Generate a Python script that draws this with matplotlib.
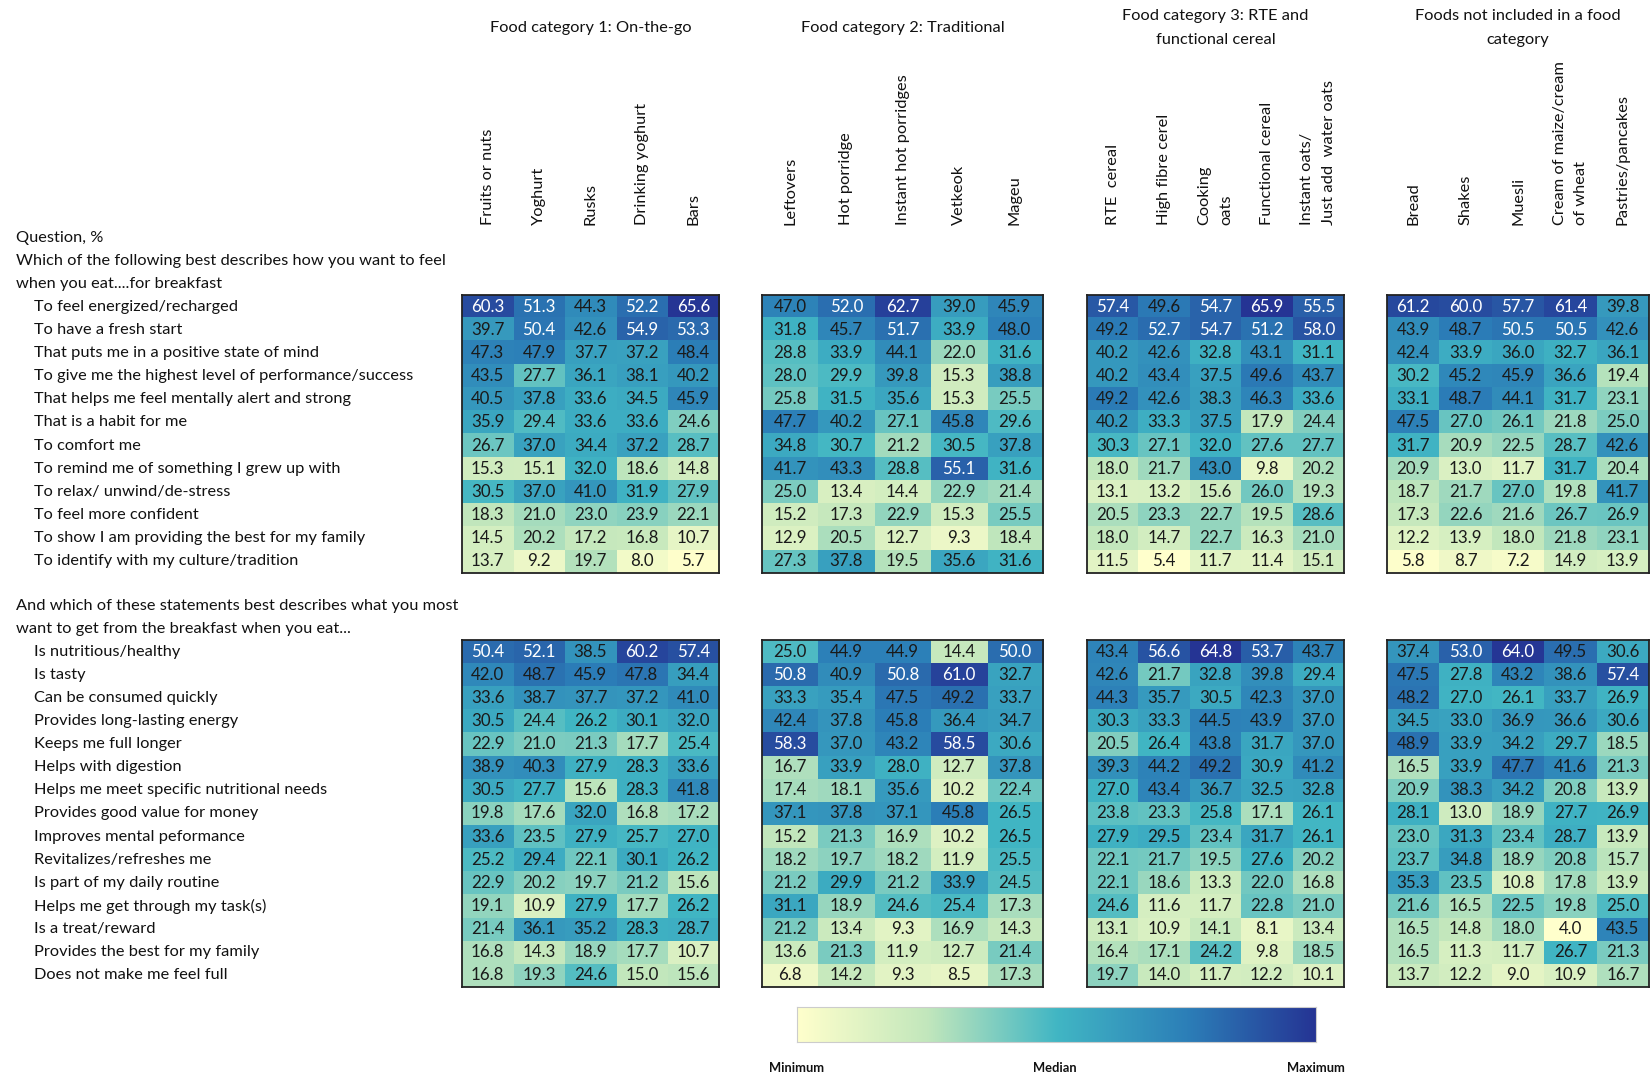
import numpy as np
import matplotlib
matplotlib.use("Agg")
import matplotlib.pyplot as plt
from matplotlib.colors import LinearSegmentedColormap, TwoSlopeNorm

plt.rcParams["font.family"] = ["Lato", "DejaVu Sans"]

# ---------------------------------------------------------------- data
group_titles = [
    "Food category 1: On-the-go",
    "Food category 2: Traditional",
    "Food category 3: RTE and\nfunctional cereal",
    "Foods not included in a food\ncategory",
]
group_columns = [
    ["Fruits or nuts", "Yoghurt", "Rusks", "Drinking yoghurt", "Bars"],
    ["Leftovers", "Hot porridge", "Instant hot porridges", "Vetkeok", "Mageu"],
    ["RTE  cereal", "High fibre cerel", "Cooking\noats", "Functional cereal",
     "Instant oats/\nJust add  water oats"],
    ["Bread", "Shakes", "Muesli", "Cream of maize/cream\nof wheat", "Pastries/pancakes"],
]

q1_header = ["Question, %",
             "Which of the following best describes how you want to feel",
             "when you eat....for breakfast"]
q1_rows = [
    "To feel energized/recharged",
    "To have a fresh start",
    "That puts me in a positive state of mind",
    "To give me the highest level of performance/success",
    "That helps me feel mentally alert and strong",
    "That is a habit for me",
    "To comfort me",
    "To remind me of something I grew up with",
    "To relax/ unwind/de-stress",
    "To feel more confident",
    "To show I am providing the best for my family",
    "To identify with my culture/tradition",
]

q2_header = ["And which of these statements best describes what you most",
             "want to get from the breakfast when you eat..."]
q2_rows = [
    "Is nutritious/healthy",
    "Is tasty",
    "Can be consumed quickly",
    "Provides long-lasting energy",
    "Keeps me full longer",
    "Helps with digestion",
    "Helps me meet specific nutritional needs",
    "Provides good value for money",
    "Improves mental peformance",
    "Revitalizes/refreshes me",
    "Is part of my daily routine",
    "Helps me get through my task(s)",
    "Is a treat/reward",
    "Provides the best for my family",
    "Does not make me feel full",
]

q1_onthego = [
    [60.3, 51.3, 44.3, 52.2, 65.6],
    [39.7, 50.4, 42.6, 54.9, 53.3],
    [47.3, 47.9, 37.7, 37.2, 48.4],
    [43.5, 27.7, 36.1, 38.1, 40.2],
    [40.5, 37.8, 33.6, 34.5, 45.9],
    [35.9, 29.4, 33.6, 33.6, 24.6],
    [26.7, 37.0, 34.4, 37.2, 28.7],
    [15.3, 15.1, 32.0, 18.6, 14.8],
    [30.5, 37.0, 41.0, 31.9, 27.9],
    [18.3, 21.0, 23.0, 23.9, 22.1],
    [14.5, 20.2, 17.2, 16.8, 10.7],
    [13.7, 9.2, 19.7, 8.0, 5.7],
]
q1_traditional = [
    [47.0, 52.0, 62.7, 39.0, 45.9],
    [31.8, 45.7, 51.7, 33.9, 48.0],
    [28.8, 33.9, 44.1, 22.0, 31.6],
    [28.0, 29.9, 39.8, 15.3, 38.8],
    [25.8, 31.5, 35.6, 15.3, 25.5],
    [47.7, 40.2, 27.1, 45.8, 29.6],
    [34.8, 30.7, 21.2, 30.5, 37.8],
    [41.7, 43.3, 28.8, 55.1, 31.6],
    [25.0, 13.4, 14.4, 22.9, 21.4],
    [15.2, 17.3, 22.9, 15.3, 25.5],
    [12.9, 20.5, 12.7, 9.3, 18.4],
    [27.3, 37.8, 19.5, 35.6, 31.6],
]
q1_cereal = [
    [57.4, 49.6, 54.7, 65.9, 55.5],
    [49.2, 52.7, 54.7, 51.2, 58.0],
    [40.2, 42.6, 32.8, 43.1, 31.1],
    [40.2, 43.4, 37.5, 49.6, 43.7],
    [49.2, 42.6, 38.3, 46.3, 33.6],
    [40.2, 33.3, 37.5, 17.9, 24.4],
    [30.3, 27.1, 32.0, 27.6, 27.7],
    [18.0, 21.7, 43.0, 9.8, 20.2],
    [13.1, 13.2, 15.6, 26.0, 19.3],
    [20.5, 23.3, 22.7, 19.5, 28.6],
    [18.0, 14.7, 22.7, 16.3, 21.0],
    [11.5, 5.4, 11.7, 11.4, 15.1],
]
q1_other = [
    [61.2, 60.0, 57.7, 61.4, 39.8],
    [43.9, 48.7, 50.5, 50.5, 42.6],
    [42.4, 33.9, 36.0, 32.7, 36.1],
    [30.2, 45.2, 45.9, 36.6, 19.4],
    [33.1, 48.7, 44.1, 31.7, 23.1],
    [47.5, 27.0, 26.1, 21.8, 25.0],
    [31.7, 20.9, 22.5, 28.7, 42.6],
    [20.9, 13.0, 11.7, 31.7, 20.4],
    [18.7, 21.7, 27.0, 19.8, 41.7],
    [17.3, 22.6, 21.6, 26.7, 26.9],
    [12.2, 13.9, 18.0, 21.8, 23.1],
    [5.8, 8.7, 7.2, 14.9, 13.9],
]

q2_onthego = [
    [50.4, 52.1, 38.5, 60.2, 57.4],
    [42.0, 48.7, 45.9, 47.8, 34.4],
    [33.6, 38.7, 37.7, 37.2, 41.0],
    [30.5, 24.4, 26.2, 30.1, 32.0],
    [22.9, 21.0, 21.3, 17.7, 25.4],
    [38.9, 40.3, 27.9, 28.3, 33.6],
    [30.5, 27.7, 15.6, 28.3, 41.8],
    [19.8, 17.6, 32.0, 16.8, 17.2],
    [33.6, 23.5, 27.9, 25.7, 27.0],
    [25.2, 29.4, 22.1, 30.1, 26.2],
    [22.9, 20.2, 19.7, 21.2, 15.6],
    [19.1, 10.9, 27.9, 17.7, 26.2],
    [21.4, 36.1, 35.2, 28.3, 28.7],
    [16.8, 14.3, 18.9, 17.7, 10.7],
    [16.8, 19.3, 24.6, 15.0, 15.6],
]
q2_traditional = [
    [25.0, 44.9, 44.9, 14.4, 50.0],
    [50.8, 40.9, 50.8, 61.0, 32.7],
    [33.3, 35.4, 47.5, 49.2, 33.7],
    [42.4, 37.8, 45.8, 36.4, 34.7],
    [58.3, 37.0, 43.2, 58.5, 30.6],
    [16.7, 33.9, 28.0, 12.7, 37.8],
    [17.4, 18.1, 35.6, 10.2, 22.4],
    [37.1, 37.8, 37.1, 45.8, 26.5],
    [15.2, 21.3, 16.9, 10.2, 26.5],
    [18.2, 19.7, 18.2, 11.9, 25.5],
    [21.2, 29.9, 21.2, 33.9, 24.5],
    [31.1, 18.9, 24.6, 25.4, 17.3],
    [21.2, 13.4, 9.3, 16.9, 14.3],
    [13.6, 21.3, 11.9, 12.7, 21.4],
    [6.8, 14.2, 9.3, 8.5, 17.3],
]
q2_cereal = [
    [43.4, 56.6, 64.8, 53.7, 43.7],
    [42.6, 21.7, 32.8, 39.8, 29.4],
    [44.3, 35.7, 30.5, 42.3, 37.0],
    [30.3, 33.3, 44.5, 43.9, 37.0],
    [20.5, 26.4, 43.8, 31.7, 37.0],
    [39.3, 44.2, 49.2, 30.9, 41.2],
    [27.0, 43.4, 36.7, 32.5, 32.8],
    [23.8, 23.3, 25.8, 17.1, 26.1],
    [27.9, 29.5, 23.4, 31.7, 26.1],
    [22.1, 21.7, 19.5, 27.6, 20.2],
    [22.1, 18.6, 13.3, 22.0, 16.8],
    [24.6, 11.6, 11.7, 22.8, 21.0],
    [13.1, 10.9, 14.1, 8.1, 13.4],
    [16.4, 17.1, 24.2, 9.8, 18.5],
    [19.7, 14.0, 11.7, 12.2, 10.1],
]
q2_other = [
    [37.4, 53.0, 64.0, 49.5, 30.6],
    [47.5, 27.8, 43.2, 38.6, 57.4],
    [48.2, 27.0, 26.1, 33.7, 26.9],
    [34.5, 33.0, 36.9, 36.6, 30.6],
    [48.9, 33.9, 34.2, 29.7, 18.5],
    [16.5, 33.9, 47.7, 41.6, 21.3],
    [20.9, 38.3, 34.2, 20.8, 13.9],
    [28.1, 13.0, 18.9, 27.7, 26.9],
    [23.0, 31.3, 23.4, 28.7, 13.9],
    [23.7, 34.8, 18.9, 20.8, 15.7],
    [35.3, 23.5, 10.8, 17.8, 13.9],
    [21.6, 16.5, 22.5, 19.8, 25.0],
    [16.5, 14.8, 18.0, 4.0, 43.5],
    [16.5, 11.3, 11.7, 26.7, 21.3],
    [13.7, 12.2, 9.0, 10.9, 16.7],
]

scale_labels = ["Minimum", "Median", "Maximum"]

# ---------------------------------------------------------------- layout (pixels)
W, H = 1651, 1073
block_x = [(462, 719), (762, 1043), (1087, 1344), (1387, 1649)]
section_y = [(295, 573), (640, 987)]
FS = 11.8       # labels
FS_CELL = 12.2  # values inside cells

cmap = LinearSegmentedColormap.from_list(
    "min_med_max",
    [(0.0, "#ffffcc"), (0.25, "#c2e7bc"), (0.5, "#41b6c4"),
     (0.75, "#2c7fb8"), (1.0, "#253494")])

fig = plt.figure(figsize=(W / 100, H / 100), dpi=100)
fig.patch.set_facecolor("white")


def fx(px):
    return px / W


def fy(py):
    return 1 - py / H


def add_px_axes(x0, y0, x1, y1):
    return fig.add_axes([fx(x0), fy(y1), fx(x1) - fx(x0), (y1 - y0) / H])


def draw_section(blocks, rows, header, y_range):
    y0, y1 = y_range
    allv = np.concatenate([np.asarray(b).ravel() for b in blocks])
    norm = TwoSlopeNorm(vmin=allv.min(), vcenter=np.median(allv), vmax=allv.max())
    nrows = len(rows)
    for (x0, x1), block in zip(block_x, blocks):
        data = np.asarray(block)
        ax = add_px_axes(x0, y0, x1, y1)
        ax.imshow(data, cmap=cmap, norm=norm, aspect="auto", interpolation="nearest")
        for r in range(data.shape[0]):
            for c in range(data.shape[1]):
                v = data[r, c]
                ax.text(c, r, f"{v:.1f}", ha="center", va="center", fontsize=FS_CELL,
                        color="white" if v >= 50 else "#1a1a1a")
        ax.set_xticks([])
        ax.set_yticks([])
        for s in ax.spines.values():
            s.set_linewidth(1.3)
            s.set_color("#222222")
    rh = (y1 - y0) / nrows
    for i, lab in enumerate(rows):
        fig.text(fx(34), fy(y0 + rh * (i + 0.5)), lab, ha="left", va="center",
                 fontsize=FS, color="#111111")
    for j, line in enumerate(reversed(header)):
        fig.text(fx(16), fy(y0 - rh * (j + 0.5) + 1), line, ha="left", va="center",
                 fontsize=FS, color="#111111")


draw_section([q1_onthego, q1_traditional, q1_cereal, q1_other], q1_rows, q1_header,
             section_y[0])
draw_section([q2_onthego, q2_traditional, q2_cereal, q2_other], q2_rows, q2_header,
             section_y[1])

# group titles and column headers
for (x0, x1), title, cols in zip(block_x, group_titles, group_columns):
    fig.text(fx((x0 + x1) / 2), fy(28), title, ha="center", va="center",
             fontsize=FS, linespacing=1.85, color="#111111")
    cw = (x1 - x0) / len(cols)
    for k, name in enumerate(cols):
        fig.text(fx(x0 + cw * (k + 0.5)), fy(225), name, rotation=90,
                 ha="center", va="bottom", multialignment="left",
                 fontsize=FS, linespacing=1.7, color="#111111")

# colour scale bar
cax = add_px_axes(797, 1007, 1316, 1042)
cax.imshow(np.linspace(0, 1, 256)[None, :], cmap=cmap, aspect="auto")
cax.set_xticks([])
cax.set_yticks([])
for s in cax.spines.values():
    s.set_color("#cccccc")
    s.set_linewidth(0.8)
for xpos, lab in zip([797, 1055, 1316], scale_labels):
    fig.text(fx(xpos), fy(1068), lab, ha="center", va="center", fontsize=9.3,
             fontweight="bold", color="#111111")

fig.savefig("out.png", dpi=100, facecolor="white")
